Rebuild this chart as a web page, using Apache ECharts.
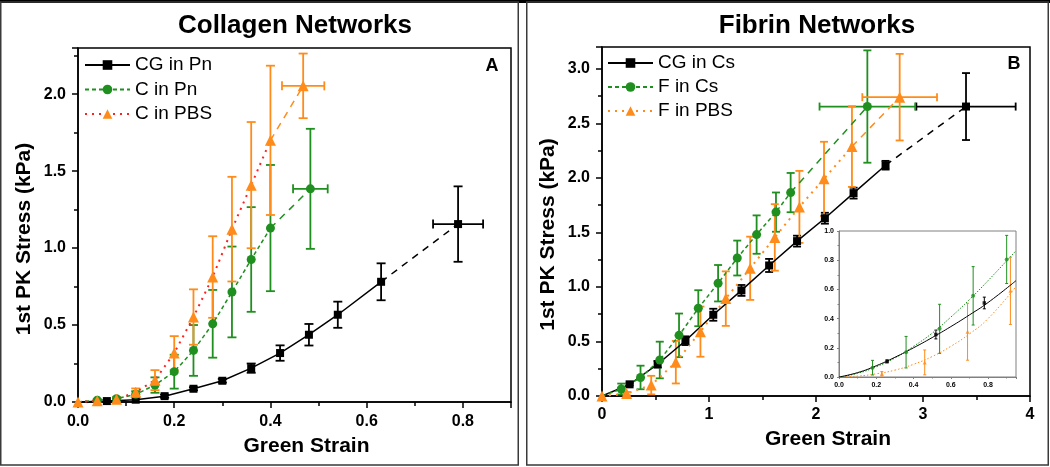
<!DOCTYPE html>
<html><head><meta charset="utf-8">
<script src="https://cdn.jsdelivr.net/npm/echarts@6/dist/echarts.min.js"></script>
<style>html,body{margin:0;padding:0;background:#fff}#c{width:1050px;height:467px}</style>
</head><body><div id="c"></div>
<script>
// ---------- Panel A: Collagen Networks ----------
const cgPnX   = [0, 0.06, 0.12, 0.18, 0.24, 0.30, 0.36, 0.42, 0.48, 0.54, 0.63];
const cgPnY   = [0, 0.006, 0.015, 0.038, 0.086, 0.138, 0.22, 0.318, 0.437, 0.567, 0.781];
const cgPnErr = [0, 0, 0, 0.01, 0.01, 0.012, 0.03, 0.05, 0.07, 0.085, 0.12];
const cgPnLast = [0.79, 1.156, 0.245, 0.052];   // x, y, yErr, xErr

const cPnX   = [0, 0.04, 0.08, 0.12, 0.16, 0.20, 0.24, 0.28, 0.32, 0.36, 0.40];
const cPnY   = [0, 0.012, 0.021, 0.05, 0.11, 0.197, 0.335, 0.508, 0.715, 0.926, 1.13];
const cPnErr = [0, 0.005, 0.01, 0.02, 0.05, 0.11, 0.165, 0.22, 0.295, 0.34, 0.41];
const cPnLast = [0.483, 1.385, 0.39, 0.036];

const cPbsX   = [0, 0.04, 0.08, 0.12, 0.16, 0.20, 0.24, 0.28, 0.32, 0.36, 0.40];
const cPbsY   = [0, 0.008, 0.018, 0.063, 0.142, 0.318, 0.552, 0.812, 1.123, 1.409, 1.70];
const cPbsErr = [0, 0.005, 0.01, 0.025, 0.065, 0.11, 0.18, 0.265, 0.34, 0.41, 0.485];
const cPbsLast = [0.468, 2.054, 0.21, 0.044];

// ---------- Panel B: Fibrin Networks ----------
const cgCsX   = [0, 0.258, 0.52, 0.78, 1.04, 1.303, 1.562, 1.823, 2.083, 2.351, 2.65];
const cgCsY   = [0, 0.107, 0.291, 0.507, 0.745, 0.968, 1.197, 1.42, 1.63, 1.86, 2.116];
const cgCsErr = [0, 0.01, 0.03, 0.04, 0.055, 0.05, 0.06, 0.05, 0.05, 0.05, 0.04];
const cgCsLast = [3.402, 2.654, 0.307, 0.464];

const fCsX   = [0, 0.18, 0.36, 0.54, 0.72, 0.90, 1.085, 1.264, 1.445, 1.626, 1.763];
const fCsY   = [0, 0.064, 0.17, 0.33, 0.556, 0.805, 1.034, 1.265, 1.48, 1.686, 1.865];
const fCsErr = [0, 0.05, 0.108, 0.168, 0.2, 0.165, 0.167, 0.16, 0.176, 0.18, 0.18];
const fCsLast = [2.48, 2.654, 0.515, 0.447];

const fPbsX   = [0, 0.23, 0.46, 0.69, 0.92, 1.157, 1.385, 1.615, 1.845, 2.075, 2.336];
const fPbsY   = [0, 0.022, 0.10, 0.31, 0.59, 0.893, 1.171, 1.454, 1.734, 1.991, 2.287];
const fPbsErr = [0, 0.015, 0.085, 0.195, 0.23, 0.25, 0.29, 0.305, 0.33, 0.34, 0.37];
const fPbsLast = [2.782, 2.74, 0.397, 0.349];

// ---------- Inset fit curves ----------
const fitX      = [0, 0.1, 0.2, 0.3, 0.4, 0.5, 0.6, 0.7, 0.8, 0.95];
const fitCgY    = [0, 0.03, 0.077, 0.135, 0.2, 0.27, 0.345, 0.425, 0.51, 0.66];
const fitFCsY   = [0, 0.025, 0.07, 0.13, 0.21, 0.3, 0.41, 0.53, 0.66, 0.865];
const fitFPbsY  = [0, 0.006, 0.022, 0.047, 0.087, 0.14, 0.21, 0.295, 0.4, 0.62];

const INSET_MAX_X = 0.95;

const FONT = "'Liberation Sans', Arial, Helvetica, sans-serif";
const BLACK = '#000000', GREEN = '#1f8f1f', ORANGE = '#ff8c1a', RED = '#ff2020';

function pts(xs, ys, hideFirst) {
  return xs.map((x, i) => (i === 0 && hideFirst) ? {value: [x, ys[i]], symbol: 'none'} : [x, ys[i]]);
}
function errRows(xs, ys, es, last) {
  const r = xs.map((x, i) => [x, ys[i], es[i], 0]);
  if (last) r.push(last.slice());
  return r;
}
function errSeries(rows, color, ai, capHalf, lw) {
  return {
    type: 'custom', xAxisIndex: ai, yAxisIndex: ai, data: rows, z: 2, silent: true, clip: false,
    encode: {x: 0, y: 1},
    renderItem: function (params, api) {
      const x = api.value(0), y = api.value(1), ye = api.value(2), xe = api.value(3);
      const st = {stroke: color, lineWidth: lw, fill: null};
      const ch = [];
      const L = (x1, y1, x2, y2) => ch.push({type: 'line', shape: {x1, y1, x2, y2}, style: st});
      if (ye > 0) {
        const t = api.coord([x, y + ye]), b = api.coord([x, y - ye]);
        L(t[0], t[1], b[0], b[1]);
        L(t[0] - capHalf, t[1], t[0] + capHalf, t[1]);
        L(b[0] - capHalf, b[1], b[0] + capHalf, b[1]);
      }
      if (xe > 0) {
        const l = api.coord([x - xe, y]), r = api.coord([x + xe, y]);
        L(l[0], l[1], r[0], r[1]);
        L(l[0], l[1] - capHalf, l[0], l[1] + capHalf);
        L(r[0], r[1] - capHalf, r[0], r[1] + capHalf);
      }
      return {type: 'group', children: ch};
    }
  };
}
function lineSeries(name, ai, data, lineColor, dash, width, sym, symSize, symColor, z) {
  return {
    name, type: 'line', xAxisIndex: ai, yAxisIndex: ai, data, z: z || 3,
    symbol: sym, symbolSize: symSize, showSymbol: true, showAllSymbol: true,
    lineStyle: {color: lineColor, width, type: dash},
    itemStyle: {color: symColor, borderWidth: 0},
    emphasis: {disabled: true}, animation: false
  };
}
function endSeg(name, ai, xs, ys, last, color, sym, symSize) {
  const n = xs.length - 1;
  return lineSeries(name, ai, [{value: [xs[n], ys[n]], symbol: 'none'}, [last[0], last[1]]],
    color, [7, 6], 1.5, sym, symSize, color, 3);
}
function fitSeries(ai, xs, ys, color, dash) {
  return {type: 'line', xAxisIndex: ai, yAxisIndex: ai, data: pts(xs, ys, false), smooth: true,
    symbol: 'none', lineStyle: {color, width: 1, type: dash}, z: 4, silent: true, animation: false};
}
function insetPoints(ai, xs, ys, color, sym, size) {
  const d = [];
  xs.forEach((x, i) => { if (x > 0 && x <= INSET_MAX_X) d.push([x, ys[i]]); });
  return {type: 'scatter', xAxisIndex: ai, yAxisIndex: ai, data: d, symbol: sym, symbolSize: size,
    itemStyle: {color}, z: 5, silent: true, animation: false};
}
function insetErr(xs, ys, es, color) {
  const r = [];
  xs.forEach((x, i) => { if (x > 0 && x <= INSET_MAX_X) r.push([x, ys[i], es[i], 0]); });
  return errSeries(r, color, 2, 1.5, 1);
}

const tickLbl = {fontFamily: FONT, fontWeight: 'bold', fontSize: 16, color: '#000'};
function mainAxis(type, min, max, interval, fmt, name, extra) {
  return Object.assign({
    type: 'value', min, max, interval,
    axisLine: {show: true, onZero: false, lineStyle: {color: '#000', width: 1.5}},
    axisTick: {show: true, inside: false, length: 6, lineStyle: {color: '#000', width: 1.5}},
    minorTick: {show: true, splitNumber: 2, length: 4, lineStyle: {color: '#000', width: 1.5}},
    splitLine: {show: false}, minorSplitLine: {show: false},
    axisLabel: Object.assign({formatter: fmt, showMaxLabel: false}, tickLbl),
    name, nameLocation: 'middle',
    nameTextStyle: {fontFamily: FONT, fontWeight: 'bold', fontSize: 21, color: '#000'}
  }, extra || {});
}
function insetAxis(min, max, interval) {
  return {
    type: 'value', min, max, interval,
    axisLine: {show: true, onZero: false, lineStyle: {color: '#808080', width: 1}},
    axisTick: {show: true, length: 2, lineStyle: {color: '#808080', width: 1}},
    minorTick: {show: true, splitNumber: 2, length: 1.5, lineStyle: {color: '#808080', width: 1}},
    splitLine: {show: false},
    axisLabel: {formatter: v => v.toFixed(1), fontFamily: FONT, fontWeight: 'bold', fontSize: 7, color: '#000', margin: 5, showMaxLabel: max === 1}
  };
}

const f1 = v => v.toFixed(1);
const f0 = v => v.toFixed(0);

const option = {
  animation: false,
  backgroundColor: '#ffffff',
  grid: [
    {left: 78, top: 48, width: 433, height: 354, show: true, borderColor: '#000', borderWidth: 1.5, containLabel: false},
    {left: 602, top: 47, width: 428, height: 349, show: true, borderColor: '#000', borderWidth: 1.5, containLabel: false},
    {left: 839, top: 231, width: 177, height: 146, show: true, borderColor: '#808080', borderWidth: 1, backgroundColor: '#fff', z: 10, containLabel: false}
  ],
  xAxis: [
    mainAxis('x', 0, 0.9, 0.2, f1, 'Green Strain', {gridIndex: 0, nameGap: 34, axisLabel: Object.assign({formatter: f1, showMaxLabel: false, margin: 12}, tickLbl),
      nameTextStyle: {fontFamily: FONT, fontWeight: 'bold', fontSize: 21, color: '#000', padding: [0, 0, 0, 24]}}),
    mainAxis('x', 0, 4, 1, f0, 'Green Strain', {gridIndex: 1, nameGap: 33, axisLabel: Object.assign({formatter: f0, margin: 11}, tickLbl),
      nameTextStyle: {fontFamily: FONT, fontWeight: 'bold', fontSize: 21, color: '#000', padding: [0, 0, 0, 24]}}),
    Object.assign(insetAxis(0, INSET_MAX_X, 0.2), {gridIndex: 2, z: 11})
  ],
  yAxis: [
    mainAxis('y', 0, 2.3, 0.5, f1, '1st PK Stress (kPa)', {gridIndex: 0, nameGap: 43, nameRotate: 90,
      axisLabel: Object.assign({formatter: f1, showMaxLabel: false, margin: 12}, tickLbl),
      nameTextStyle: {fontFamily: FONT, fontWeight: 'bold', fontSize: 21, color: '#000', padding: [0, 28, 0, 0]}}),
    mainAxis('y', 0, 3.2, 0.5, f1, '1st PK Stress (kPa)', {gridIndex: 1, nameGap: 43, nameRotate: 90,
      axisLabel: Object.assign({formatter: f1, showMaxLabel: false, margin: 12}, tickLbl),
      nameTextStyle: {fontFamily: FONT, fontWeight: 'bold', fontSize: 21, color: '#000', padding: [0, 26, 0, 0]}}),
    Object.assign(insetAxis(0, 1, 0.2), {gridIndex: 2, z: 11})
  ],
  legend: [
    {data: ['CG in Pn', 'C in Pn', 'C in PBS'], orient: 'vertical', left: 79, top: 50, itemWidth: 45, itemHeight: 12,
     itemGap: 4.5, textStyle: {fontFamily: FONT, fontSize: 19, color: '#000', lineHeight: 20}, selectedMode: false},
    {data: ['CG in Cs', 'F in Cs', 'F in PBS'], orient: 'vertical', left: 602, top: 48, itemWidth: 45, itemHeight: 12,
     itemGap: 4, textStyle: {fontFamily: FONT, fontSize: 19, color: '#000', lineHeight: 20}, selectedMode: false}
  ],
  graphic: [
    {type: 'rect', shape: {x: 0, y: 0, width: 1050, height: 3}, style: {fill: '#000'}, silent: true},
    {type: 'rect', shape: {x: 0.75, y: 2, width: 517.5, height: 463}, style: {fill: null, stroke: '#3a3a3a', lineWidth: 1.5}, silent: true},
    {type: 'rect', shape: {x: 526.75, y: 2, width: 521.5, height: 463}, style: {fill: null, stroke: '#3a3a3a', lineWidth: 1.5}, silent: true},
    {type: 'text', x: 295, y: 26, style: {text: 'Collagen Networks', font: 'bold 26px ' + FONT, fill: '#000', textAlign: 'center', textVerticalAlign: 'middle'}},
    {type: 'text', x: 817, y: 26, style: {text: 'Fibrin Networks', font: 'bold 26px ' + FONT, fill: '#000', textAlign: 'center', textVerticalAlign: 'middle'}},
    {type: 'text', x: 492, y: 66, style: {text: 'A', font: 'bold 18px ' + FONT, fill: '#000', textAlign: 'center', textVerticalAlign: 'middle'}},
    {type: 'text', x: 1014, y: 64, style: {text: 'B', font: 'bold 18px ' + FONT, fill: '#000', textAlign: 'center', textVerticalAlign: 'middle'}}
  ],
  series: [
    // Panel A
    errSeries(errRows(cgPnX, cgPnY, cgPnErr, cgPnLast), BLACK, 0, 4.5, 1.8),
    lineSeries('CG in Pn', 0, pts(cgPnX, cgPnY, true), BLACK, 'solid', 1.5, 'rect', 8, BLACK),
    endSeg('_cgPnEnd', 0, cgPnX, cgPnY, cgPnLast, BLACK, 'rect', 8),
    errSeries(errRows(cPnX, cPnY, cPnErr, cPnLast), GREEN, 0, 4.5, 1.8),
    lineSeries('C in Pn', 0, pts(cPnX, cPnY, true), GREEN, [4, 3], 1.5, 'circle', 9, GREEN),
    endSeg('_cPnEnd', 0, cPnX, cPnY, cPnLast, GREEN, 'circle', 9),
    errSeries(errRows(cPbsX, cPbsY, cPbsErr, cPbsLast), ORANGE, 0, 4.5, 1.8),
    lineSeries('C in PBS', 0, pts(cPbsX, cPbsY, false), RED, [2, 5], 2, 'triangle', 11, ORANGE),
    endSeg('_cPbsEnd', 0, cPbsX, cPbsY, cPbsLast, ORANGE, 'triangle', 11),
    // Panel B
    errSeries(errRows(cgCsX, cgCsY, cgCsErr, cgCsLast), BLACK, 1, 4, 1.8),
    lineSeries('CG in Cs', 1, pts(cgCsX, cgCsY, true), BLACK, 'solid', 1.5, 'rect', 8, BLACK),
    endSeg('_cgCsEnd', 1, cgCsX, cgCsY, cgCsLast, BLACK, 'rect', 8),
    errSeries(errRows(fCsX, fCsY, fCsErr, fCsLast), GREEN, 1, 4, 1.8),
    lineSeries('F in Cs', 1, pts(fCsX, fCsY, true), GREEN, [4, 3], 1.5, 'circle', 9, GREEN),
    endSeg('_fCsEnd', 1, fCsX, fCsY, fCsLast, GREEN, 'circle', 9),
    errSeries(errRows(fPbsX, fPbsY, fPbsErr, fPbsLast), ORANGE, 1, 4, 1.8),
    lineSeries('F in PBS', 1, pts(fPbsX, fPbsY, false), ORANGE, [2, 5], 2, 'triangle', 11, ORANGE),
    endSeg('_fPbsEnd', 1, fPbsX, fPbsY, fPbsLast, ORANGE, 'triangle', 11),
    // Inset
    fitSeries(2, fitX, fitFPbsY, ORANGE, [1.5, 2]),
    fitSeries(2, fitX, fitFCsY, GREEN, [1.5, 1.5]),
    fitSeries(2, fitX, fitCgY, BLACK, 'solid'),
    insetErr(fPbsX, fPbsY, fPbsErr, ORANGE),
    insetErr(fCsX, fCsY, fCsErr, GREEN),
    insetErr(cgCsX, cgCsY, cgCsErr, BLACK),
    insetPoints(2, fPbsX, fPbsY, ORANGE, 'triangle', 4),
    insetPoints(2, fCsX, fCsY, GREEN, 'circle', 4),
    insetPoints(2, cgCsX, cgCsY, BLACK, 'rect', 3.5)
  ]
};
// inset series sit above main series
option.series.forEach((s, i) => { if (s.xAxisIndex === 2) s.z = 12; });

const chart = echarts.init(document.getElementById('c'), null, {renderer: 'canvas'});
chart.setOption(option);
</script></body></html>
